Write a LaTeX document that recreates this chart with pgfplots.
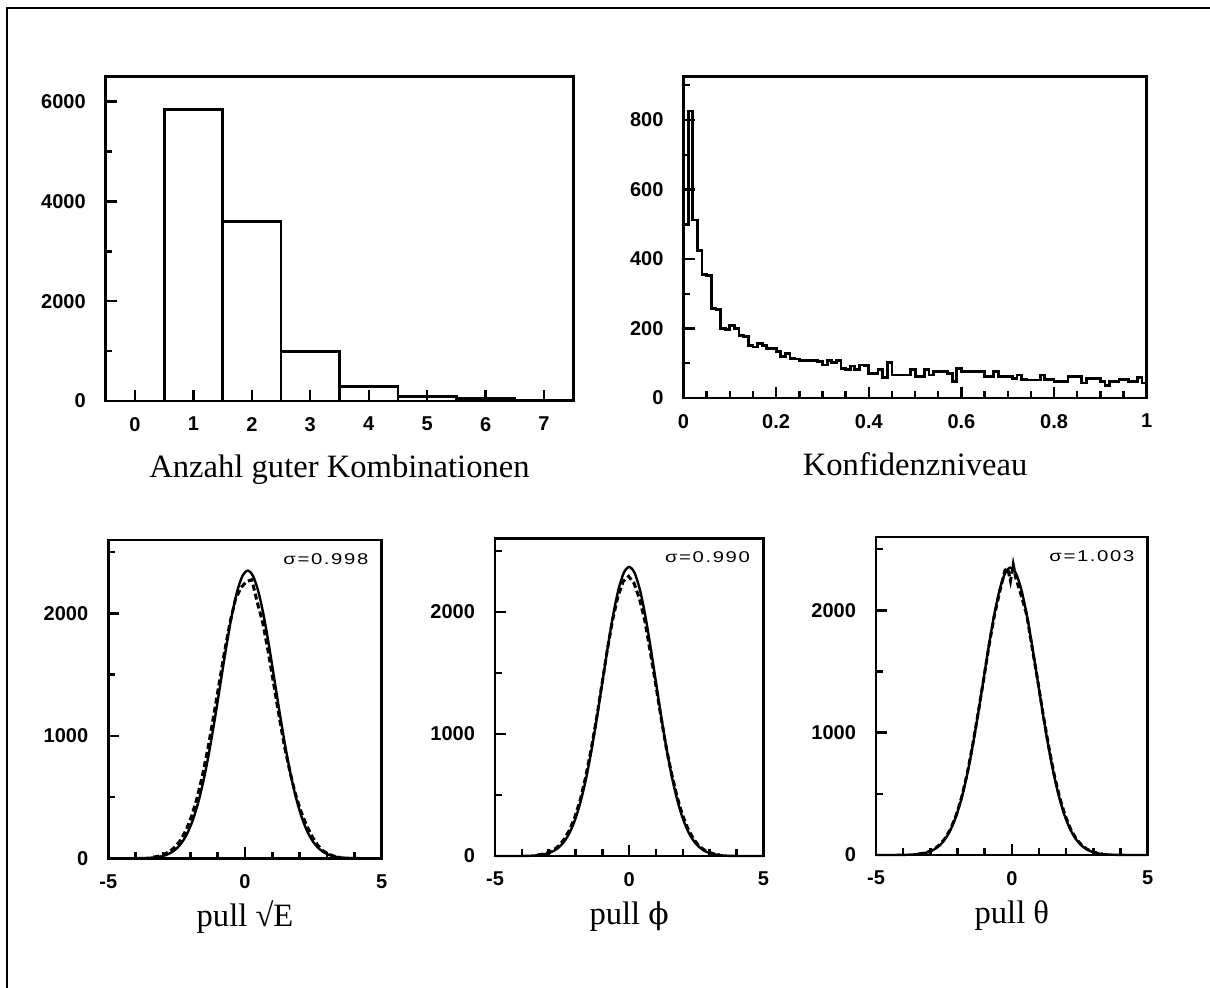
\documentclass[border=0pt]{standalone}
\usepackage{fontspec}
\setmainfont{Liberation Serif}
\setsansfont{Liberation Sans}
\newfontfamily\sigfont[LetterSpace=8]{Liberation Sans}
\newfontfamily\dvs{DejaVu Serif}
\usepackage{pgfplots}
\pgfplotsset{compat=1.18}
\pgfplotsset{
  base/.style={
    scale only axis,
    axis line style={line width=1.4pt},
    every tick/.style={black, line width=1.2pt},
    tick align=inside,
    xtick pos=bottom, ytick pos=left,
    major tick length=5.5pt, minor tick length=3.3pt,
    tick label style={font=\sffamily\bfseries\fontsize{10}{12}\selectfont},
    /pgf/number format/assume math mode=true,
    /pgf/number format/1000 sep={},
    scaled ticks=false,
    xticklabel style={yshift=-4.5pt},
    yticklabel style={xshift=-6.5pt},
    xlabel style={font=\fontsize{16.3}{20}\selectfont, at={(axis description cs:0.5,0)}, anchor=base, yshift=-38.5pt},
    clip=false,
  },
  pull/.style={base,
    xmin=-5, xmax=5, ymin=0, ymax=2600,
    xtick={-5,0,5}, minor xtick={-4,-3,-2,-1,1,2,3,4},
    ytick={0,1000,2000}, minor ytick={500,1500,2500},
    xlabel style={yshift=4.5pt},
  },
  fitline/.style={black, line width=1.2pt, smooth, tension=0.5},
  dataline/.style={black, line width=1.5pt, dash pattern=on 3pt off 1.6pt},
}
\newcommand{\sig}[1]{\node[anchor=north east, inner sep=0pt, xshift=-6.5pt, yshift=-6.5pt, font=\sigfont\fontsize{7.8}{9.4}\selectfont] at (rel axis cs:1,1) {\scalebox{1.3}[1]{#1}};}
\begin{document}
\begin{tikzpicture}
\path[use as bounding box] (0,0) rectangle (605pt,-494pt);
\draw[line width=1.2pt] (3.35pt,-494pt) -- (3.35pt,-4pt) -- (605pt,-4pt);

% top left
\begin{axis}[base, at={(52.85pt,-200.5pt)}, anchor=south west,
  width=233.8pt, height=162.15pt,
  xmin=-0.5, xmax=7.5, ymin=0, ymax=6500,
  xtick={0,1,2,3,4,5,6,7},
  ytick={0,2000,4000,6000}, minor ytick={1000,3000,5000},
  xlabel={Anzahl guter Kombinationen}]
\addplot[ybar interval, draw=black, line width=1.4pt, fill=none] coordinates {
(-0.5,0) (0.5,5840) (1.5,3590) (2.5,1000) (3.5,287) (4.5,86) (5.5,45) (6.5,20) (7.5,20)};
\end{axis}

% top right
\begin{axis}[base, at={(341.75pt,-199pt)}, anchor=south west,
  width=231.6pt, height=160.75pt,
  xmin=0, xmax=1, ymin=0, ymax=925,
  xtick={0,0.2,0.4,0.6,0.8,1}, minor x tick num=3,
  ytick={0,200,400,600,800}, minor ytick={100,300,500,700,900},
  xlabel={Konfidenzniveau}]
\addplot[const plot mark left, black, line width=1.4pt] coordinates {
(0.00,500) (0.01,826) (0.02,512) (0.03,424) (0.04,355) (0.05,352) (0.06,258) (0.07,255) (0.08,200) (0.09,197)
(0.10,209) (0.11,199) (0.12,180) (0.13,176) (0.14,152) (0.15,147) (0.16,157) (0.17,152) (0.18,142) (0.19,142)
(0.20,133) (0.21,119) (0.22,128) (0.23,114) (0.24,112) (0.25,109) (0.26,109) (0.27,108) (0.28,109) (0.29,104)
(0.30,95) (0.31,109) (0.32,102) (0.33,107) (0.34,85) (0.35,81) (0.36,92) (0.37,81) (0.38,95) (0.39,93)
(0.40,71) (0.41,71) (0.42,83) (0.43,60) (0.44,102) (0.45,66) (0.46,66) (0.47,66) (0.48,66) (0.49,81)
(0.50,62) (0.51,62) (0.52,83) (0.53,66) (0.54,76) (0.55,76) (0.56,76) (0.57,71) (0.58,47) (0.59,85)
(0.60,76) (0.61,76) (0.62,76) (0.63,76) (0.64,76) (0.65,62) (0.66,62) (0.67,76) (0.68,62) (0.69,62)
(0.70,62) (0.71,57) (0.72,66) (0.73,54) (0.74,52) (0.75,52) (0.76,52) (0.77,66) (0.78,54) (0.79,54)
(0.80,47) (0.81,47) (0.82,47) (0.83,62) (0.84,62) (0.85,62) (0.86,43) (0.87,57) (0.88,57) (0.89,57)
(0.90,47) (0.91,35) (0.92,47) (0.93,47) (0.94,54) (0.95,54) (0.96,47) (0.97,47) (0.98,60) (0.99,43) (1.00,43)};
\end{axis}

% bottom left
\begin{axis}[pull, at={(54.15pt,-429.15pt)}, anchor=south west,
  width=136.7pt, height=159.15pt, xlabel={pull √E}]
\addplot[fitline] coordinates {
(-5,0) (-4.3,0) (-3.7,2) (-3.3,7) (-3.1,14) (-2.9,26) (-2.7,47) (-2.5,80) (-2.3,132) (-2.1,209) (-1.9,318)
(-1.7,465) (-1.5,653) (-1.3,882) (-1.1,1144) (-0.9,1425) (-0.7,1706) (-0.5,1963) (-0.3,2169) (-0.1,2303)
(0.1,2350) (0.3,2303) (0.5,2169) (0.7,1963) (0.9,1706) (1.1,1425) (1.3,1144) (1.5,882) (1.7,653) (1.9,465)
(2.1,318) (2.3,209) (2.5,132) (2.7,80) (2.9,47) (3.1,26) (3.3,14) (3.5,7) (3.9,2) (4.5,0) (5,0)};
\addplot[dataline] coordinates {
(-3.35,10) (-3.15,18) (-2.95,33) (-2.75,57) (-2.55,94) (-2.35,151) (-2.15,233) (-1.95,346) (-1.75,495)
(-1.55,683) (-1.35,906) (-1.15,1157) (-0.95,1423) (-0.75,1686) (-0.55,1924) (-0.35,2115) (-0.15,2210)
(0.05,2260) (0.25,2275) (0.45,2090) (0.65,1924) (0.85,1686) (1.05,1423) (1.25,1157) (1.45,906)
(1.65,700) (1.85,520) (2.05,380) (2.25,270) (2.45,180) (2.65,110) (2.85,62) (3.05,35) (3.25,18) (3.45,10)};
\sig{σ=0.998}
\end{axis}

% bottom middle
\begin{axis}[pull, at={(247.5pt,-428pt)}, anchor=south west,
  width=134.15pt, height=158.75pt, xlabel={pull {\dvs\fontsize{15}{18}\selectfont ϕ}}]
\addplot[fitline] coordinates {
(-5,0) (-4.4,0) (-3.8,1) (-3.4,6) (-3.2,13) (-3.0,24) (-2.8,43) (-2.6,75) (-2.4,125) (-2.2,200) (-2.0,307)
(-1.8,453) (-1.6,641) (-1.4,871) (-1.2,1135) (-1.0,1421) (-0.8,1707) (-0.6,1970) (-0.4,2181) (-0.2,2319)
(0,2367) (0.2,2319) (0.4,2181) (0.6,1970) (0.8,1707) (1.0,1421) (1.2,1135) (1.4,871) (1.6,641) (1.8,453)
(2.0,307) (2.2,200) (2.4,125) (2.6,75) (2.8,43) (3.0,24) (3.2,13) (3.4,6) (3.8,1) (4.4,0) (5,0)};
\addplot[dataline] coordinates {
(-3.42,8) (-3.22,15) (-3.02,27) (-2.82,48) (-2.62,84) (-2.42,138) (-2.22,214) (-2.02,322) (-1.82,462)
(-1.62,648) (-1.42,868) (-1.22,1120) (-1.02,1400) (-0.82,1680) (-0.62,1930) (-0.42,2125) (-0.22,2250)
(-0.02,2290) (0.18,2235) (0.38,2110) (0.58,1930) (0.78,1680) (0.98,1420) (1.18,1145) (1.38,890)
(1.58,675) (1.78,490) (1.98,340) (2.18,228) (2.38,146) (2.58,88) (2.78,52) (2.98,29) (3.18,16) (3.38,8)};
\sig{σ=0.990}
\end{axis}

% bottom right
\begin{axis}[pull, at={(438pt,-427.5pt)}, anchor=south west,
  width=135.85pt, height=159pt, xlabel={pull θ}]
\addplot[fitline] coordinates {
(-5,0) (-4.45,0) (-3.85,2) (-3.45,7) (-3.25,14) (-3.05,26) (-2.85,47) (-2.65,80) (-2.45,132) (-2.25,209) (-2.05,318)
(-1.85,465) (-1.65,653) (-1.45,882) (-1.25,1144) (-1.05,1425) (-0.85,1706) (-0.65,1963) (-0.45,2169) (-0.25,2303)
(-0.05,2350) (0.15,2303) (0.35,2169) (0.55,1963) (0.75,1706) (0.95,1425) (1.15,1144) (1.35,882) (1.55,653) (1.75,465)
(1.95,318) (2.15,209) (2.35,132) (2.55,80) (2.75,47) (2.95,26) (3.15,14) (3.35,7) (3.75,2) (4.35,0) (5,0)};
\addplot[dataline] coordinates {
(-3.45,8) (-3.25,15) (-3.05,28) (-2.85,50) (-2.65,85) (-2.45,138) (-2.25,215) (-2.05,325) (-1.85,470)
(-1.65,660) (-1.45,890) (-1.25,1150) (-1.05,1420) (-0.85,1700) (-0.65,1950) (-0.45,2150) (-0.25,2330)
(-0.15,2340) (-0.05,2240) (0.05,2375) (0.15,2260) (0.35,2120) (0.55,1960) (0.75,1690) (0.95,1430) (1.15,1150)
(1.35,895) (1.55,665) (1.75,478) (1.95,330) (2.15,218) (2.35,138) (2.55,85) (2.75,50) (2.95,28) (3.15,15) (3.35,8)};
\sig{σ=1.003}
\end{axis}
\end{tikzpicture}
\end{document}
